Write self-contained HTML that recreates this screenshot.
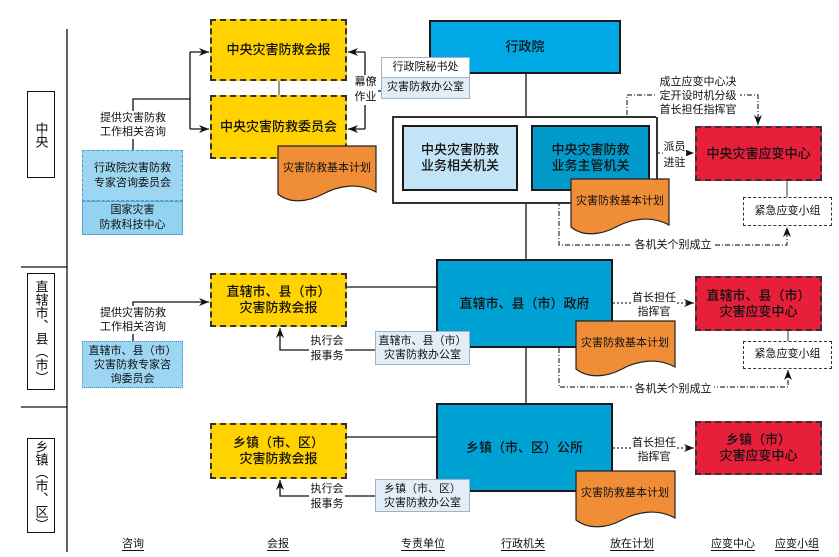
<!DOCTYPE html>
<html><head><meta charset="utf-8">
<style>
*{box-sizing:border-box;margin:0;padding:0}
body{width:839px;height:557px;background:#fff;position:relative;overflow:hidden;font-family:"Liberation Sans","Noto Sans CJK SC",sans-serif;color:#111}
.b{position:absolute;display:flex;align-items:center;justify-content:center;text-align:center;line-height:1.2}
.t13{font-size:13px;font-weight:500}
.t11{font-size:11px}
.lab{position:absolute;border:1.5px solid #111;background:#fff;display:flex;align-items:center;justify-content:center;writing-mode:vertical-rl;font-size:13px;line-height:1;letter-spacing:0px}
.yel{background:#FFD200;border:2px dashed #333}
.red{background:#E81F3A;border:2px dashed #333}
.blu{border:2px solid #1a1a1a}
.txt{position:absolute;background:#fff;font-size:11px;line-height:14px;text-align:center;white-space:nowrap}
.bot{position:absolute;top:535px;font-size:11px;text-decoration:underline;text-underline-offset:3px;white-space:nowrap;transform:translateX(-50%)}
svg{position:absolute;left:0;top:0}
</style></head><body>

<svg width="839" height="557" style="z-index:0">
<defs>
<marker id="ar" markerWidth="10" markerHeight="8" refX="10" refY="4" orient="auto" markerUnits="userSpaceOnUse">
<path d="M0,0 L10,4 L0,8 L3,4 Z" fill="#111"/></marker>
</defs>
<g stroke="#111" stroke-width="1.3" fill="none">
<path d="M67,29 V552"/>
<path d="M21,267 H67 M21,407 H67"/>
<path d="M133,150 V99 H190 M190,52 V129"/>
<path d="M190,52 H209" marker-end="url(#ar)"/>
<path d="M190,129 H209" marker-end="url(#ar)"/>
<path d="M365,52 V129 M372,91 H381"/>
<path d="M365,52 H348" marker-end="url(#ar)"/>
<path d="M365,129 H348" marker-end="url(#ar)"/>
<path d="M526,74 V116 M526,204 V259 M526,348 V403"/>
<path d="M347,287 H436 M347,437 H436"/>
<path d="M133,341 V302 H209" marker-end="url(#ar)"/>
<path d="M375,350 H280 V328" marker-end="url(#ar)"/>
<path d="M375,496 H280 V480" marker-end="url(#ar)"/>
</g>
<path d="M279,81 V95" stroke="#999" stroke-width="2"/>
<path d="M787,181 V197 M788,331 V341" stroke="#666" stroke-width="1.3"/>
<g stroke="#333" stroke-width="1.2" fill="none" stroke-dasharray="2 2">
<path d="M658,153 H694" marker-end="url(#ar)"/>
<path d="M613,303 H694" marker-end="url(#ar)"/>
<path d="M613,448 H694" marker-end="url(#ar)"/>
</g>
<g stroke="#333" stroke-width="1.2" fill="none" stroke-dasharray="5 2 1 2">
<path d="M627,125 V95 H758 V125" marker-end="url(#ar)"/>
<path d="M559,191 V245 H787 V227" marker-end="url(#ar)"/>
<path d="M559,348 V387 H788 V370" marker-end="url(#ar)"/>
</g>
</svg>

<!-- level labels -->
<div class="lab" style="left:27px;top:91px;width:28px;height:87px">中央</div>
<div class="lab" style="left:27px;top:273px;width:28px;height:117px">直辖市、县（市）</div>
<div class="lab" style="left:27px;top:438px;width:28px;height:95px">乡镇（市、区）</div>

<!-- yellow -->
<div class="b yel t13" style="left:210px;top:19px;width:137px;height:62px">中央灾害防救会报</div>
<div class="b yel t13" style="left:210px;top:95px;width:137px;height:64px">中央灾害防救委员会</div>
<div class="b yel t13" style="left:210px;top:273px;width:137px;height:54px">直辖市、县（市）<br>灾害防救会报</div>
<div class="b yel t13" style="left:210px;top:423px;width:137px;height:56px">乡镇（市、区）<br>灾害防救会报</div>

<!-- consult -->
<div class="b t11" style="left:82px;top:150px;width:101px;height:51px;background:#9DD6F3;border:1px dashed #4a9cc4;line-height:15px">行政院灾害防救<br>专家咨询委员会</div>
<div class="b t11" style="left:82px;top:201px;width:101px;height:34px;background:#94D2F1;border:1px solid #5aa6cc;line-height:15px">国家灾害<br>防救科技中心</div>
<div class="b t11" style="left:82px;top:341px;width:101px;height:47px;background:#9DD6F3;border:1px dotted #3a8cc0;line-height:14px">直辖市、县（市）<br>灾害防救专家咨<br>询委员会</div>

<!-- 行政院 -->
<div class="b blu t13" style="left:429px;top:20px;width:192px;height:54px;background:#00A8E6">行政院</div>

<!-- office boxes -->
<div class="b t11" style="left:381px;top:57px;width:89px;height:21px;background:#fff;border:1px solid #9fb3c8;z-index:2">行政院秘书处</div>
<div class="b t11" style="left:381px;top:78px;width:89px;height:21px;background:#E3EDF8;border:1px solid #9fb3c8;border-top:none;z-index:2">灾害防救办公室</div>

<!-- white box -->
<div style="position:absolute;left:392px;top:116px;width:266px;height:88px;border:2px solid #333;background:#fff"></div>
<div class="b blu t13" style="left:402px;top:125px;width:116px;height:66px;background:#C3E4F6">中央灾害防救<br>业务相关机关</div>
<div class="b blu t13" style="left:531px;top:125px;width:119px;height:66px;background:#009BCB">中央灾害防救<br>业务主管机关</div>

<!-- red -->
<div class="b red t13" style="left:695px;top:126px;width:127px;height:55px">中央灾害应变中心</div>
<div class="b red t13" style="left:695px;top:276px;width:127px;height:55px">直辖市、县（市）<br>灾害应变中心</div>
<div class="b red t13" style="left:695px;top:421px;width:127px;height:54px">乡镇（市）<br>灾害应变中心</div>

<!-- small groups -->
<div class="b t11" style="left:743px;top:197px;width:89px;height:29px;background:#fff;border:1.5px dashed #333">紧急应变小组</div>
<div class="b t11" style="left:743px;top:341px;width:89px;height:28px;background:#fff;border:1.5px dashed #333">紧急应变小组</div>

<!-- gov boxes -->
<div class="b blu t13" style="left:436px;top:259px;width:177px;height:89px;background:#00A1D3">直辖市、县（市）政府</div>
<div class="b blu t13" style="left:436px;top:403px;width:177px;height:89px;background:#00A1D3">乡镇（市、区）公所</div>

<!-- offices lower -->
<div class="b t11" style="left:375px;top:331px;width:95px;height:34px;background:#E3EDF8;border:1px solid #9fb3c8;z-index:2;line-height:14px">直辖市、县（市）<br>灾害防救办公室</div>
<div class="b t11" style="left:375px;top:479px;width:95px;height:33px;background:#E3EDF8;border:1px solid #9fb3c8;z-index:2;line-height:14px">乡镇（市、区）<br>灾害防救办公室</div>

<!-- documents -->
<svg width="839" height="557" style="z-index:3;pointer-events:none">
<g fill="#F08E38" stroke="#222" stroke-width="1.2">
<path d="M278,146 H376 V192 C358,182 338,186 323,194 C308,202 290,204 278,194 Z"/>
<path d="M571,179 H669 V225 C651,215 631,219 616,227 C601,235 583,237 571,227 Z"/>
<path d="M576,321 H675 V367 C657,357 637,361 622,369 C607,377 589,379 576,369 Z"/>
<path d="M576,471 H675 V518 C657,508 637,512 622,520 C607,528 589,530 576,520 Z"/>
</g>
<g font-size="11" fill="#111" text-anchor="middle" font-family="Liberation Sans, Noto Sans CJK SC, sans-serif">
<text x="327" y="171">灾害防救基本计划</text>
<text x="620" y="204">灾害防救基本计划</text>
<text x="625" y="346">灾害防救基本计划</text>
<text x="625" y="496">灾害防救基本计划</text>
</g>
</svg>

<!-- connector labels -->
<div class="txt" style="left:98px;top:111px;width:70px">提供灾害防救<br>工作相关咨询</div>
<div class="txt" style="left:98px;top:306px;width:70px">提供灾害防救<br>工作相关咨询</div>
<div class="txt" style="left:353px;top:75px;width:25px;line-height:15px">幕僚<br>作业</div>
<div class="txt" style="left:309px;top:334px;width:36px;line-height:15px">执行会<br>报事务</div>
<div class="txt" style="left:309px;top:482px;width:36px;line-height:15px">执行会<br>报事务</div>
<div class="txt" style="left:656px;top:75px;width:84px">成立应变中心决<br>定开设时机分级<br>首长担任指挥官</div>
<div class="txt" style="left:663px;top:139px;width:23px;line-height:16px">派员<br>进驻</div>
<div class="txt" style="left:631px;top:291px;width:46px">首长担任<br>指挥官</div>
<div class="txt" style="left:631px;top:436px;width:46px">首长担任<br>指挥官</div>
<div class="txt" style="left:632px;top:238px;width:82px;line-height:14px">各机关个别成立</div>
<div class="txt" style="left:632px;top:382px;width:82px;line-height:14px">各机关个别成立</div>

<!-- bottom labels -->
<div class="bot" style="left:133px">咨询</div>
<div class="bot" style="left:278px">会报</div>
<div class="bot" style="left:423px">专责单位</div>
<div class="bot" style="left:523px">行政机关</div>
<div class="bot" style="left:632px">放在计划</div>
<div class="bot" style="left:733px">应变中心</div>
<div class="bot" style="left:797px">应变小组</div>

</body></html>
